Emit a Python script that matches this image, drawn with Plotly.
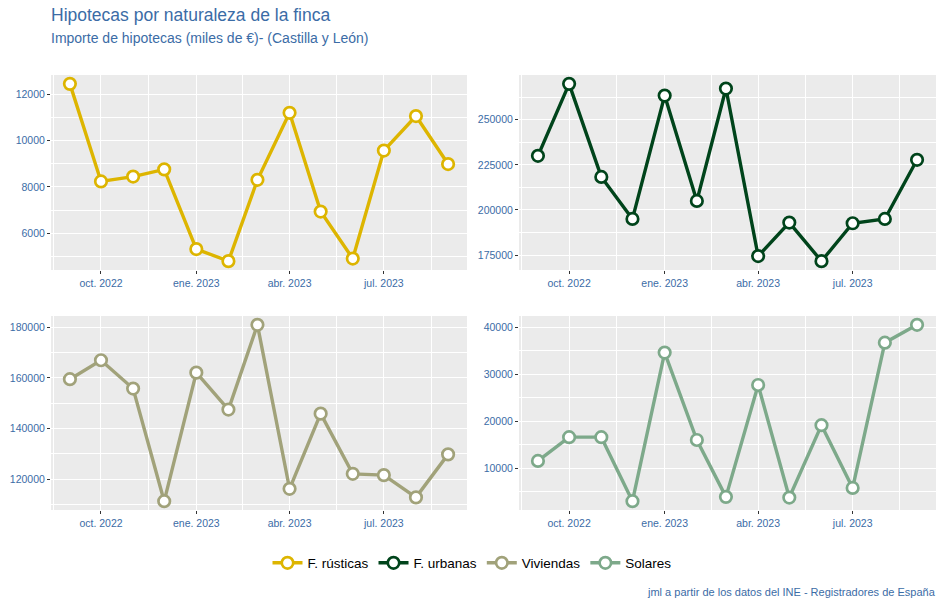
import pandas as pd
import plotly.graph_objects as go
from plotly.subplots import make_subplots

# ---- data ----
months = ["2022-09-01", "2022-10-01", "2022-11-01", "2022-12-01", "2023-01-01",
          "2023-02-01", "2023-03-01", "2023-04-01", "2023-05-01", "2023-06-01",
          "2023-07-01", "2023-08-01", "2023-09-01"]
rusticas = [12450, 8240, 8450, 8760, 5320, 4800, 8310, 11200, 6940, 4910, 9570, 11060, 8990]
urbanas = [230000, 269900, 218300, 195000, 263400, 205000, 267300, 174400, 193000, 171600, 192600, 195000, 227800]
viviendas = [159500, 167000, 155800, 111300, 162100, 147500, 181000, 116200, 145900, 122100, 121600, 112800, 129800]
solares = [11550, 16600, 16600, 2980, 34600, 16000, 3900, 27700, 3750, 19150, 5800, 36700, 40500]

series_names = ["F. rústicas", "F. urbanas", "Viviendas", "Solares"]
series_values = [rusticas, urbanas, viviendas, solares]
series_colors = ["#DDB500", "#00441B", "#A1A27A", "#7DA98A"]
y_dticks = [2000, 25000, 20000, 10000]

x_tickvals = ["2022-10-01", "2023-01-01", "2023-04-01", "2023-07-01"]
x_ticktext = ["oct. 2022", "ene. 2023", "abr. 2023", "jul. 2023"]

title = "Hipotecas por naturaleza de la finca"
subtitle = "Importe de hipotecas (miles de €)- (Castilla y León)"
caption = "jml a partir de los datos del INE - Registradores de España"

# ---- layout constants ----
W, H = 944, 607
BLUE = "#3B6CA6"
FONT = "Liberation Sans, Arial, sans-serif"

dates = pd.to_datetime(months)
span = dates.max() - dates.min()
x_range = [dates.min() - span * 0.05, dates.max() + span * 0.05]

# minor breaks: midpoints between major breaks (and one step before/after)
maj = pd.to_datetime(x_tickvals)
minor = [maj[i] + (maj[i + 1] - maj[i]) / 2 for i in range(len(maj) - 1)]
minor = [maj[0] - (maj[1] - maj[0]) / 2] + minor + [maj[-1] + (maj[-1] - maj[-2]) / 2]

fig = make_subplots(rows=2, cols=2)

xdoms = [[51 / W, 467 / W], [519 / W, 936 / W]]
ydoms = [[1 - 270 / H, 1 - 75 / H], [1 - 510 / H, 1 - 316 / H]]

for i, (name, vals, col, dt) in enumerate(zip(series_names, series_values, series_colors, y_dticks)):
    r, c = i // 2 + 1, i % 2 + 1
    fig.add_trace(go.Scatter(
        x=dates, y=vals, mode="lines+markers", name=name,
        line=dict(color=col, width=3.4),
        marker=dict(size=11.5, color="white", line=dict(color=col, width=2.7)),
        showlegend=True, hovertemplate="%{x|%b %Y}: %{y}<extra>" + name + "</extra>",
    ), row=r, col=c)
    lo, hi = min(vals), max(vals)
    pad = (hi - lo) * 0.05
    fig.update_yaxes(range=[lo - pad, hi + pad], dtick=dt, tickformat="d",
                     domain=ydoms[r - 1],
                     minor=dict(dtick=dt / 2, showgrid=True, gridcolor="#FFFFFF", gridwidth=0.5,
                                ticks=""),
                     row=r, col=c)
    fig.update_xaxes(domain=xdoms[c - 1], row=r, col=c)

fig.update_xaxes(type="date", range=x_range, tickmode="array", tickvals=x_tickvals,
                 ticktext=x_ticktext, showgrid=True, gridcolor="#FFFFFF", gridwidth=1.1,
                 ticks="outside", ticklen=3, tickcolor="#333333", tickwidth=1,
                 tickfont=dict(family=FONT, size=10.5, color=BLUE), zeroline=False,
                 showline=False,
                 minor=dict(tickvals=minor, showgrid=True, gridcolor="#FFFFFF", gridwidth=0.5,
                            ticks=""))
fig.update_yaxes(showgrid=True, gridcolor="#FFFFFF", gridwidth=1.1,
                 ticks="outside", ticklen=3, tickcolor="#333333", tickwidth=1,
                 tickfont=dict(family=FONT, size=10.5, color=BLUE), zeroline=False,
                 showline=False)

fig.update_layout(
    width=W, height=H,
    margin=dict(l=0, r=0, t=0, b=0),
    paper_bgcolor="white", plot_bgcolor="#EBEBEB",
    font=dict(family=FONT, size=12, color="black"),
    showlegend=True,
    legend=dict(orientation="h", x=0.5, xanchor="center", y=1 - 563 / H, yanchor="middle",
                font=dict(family=FONT, size=13.5, color="black"), itemwidth=30,
                bgcolor="rgba(0,0,0,0)"),
    annotations=[
        dict(text=title, x=49 / W, y=1 - 15 / H, xref="paper", yref="paper",
             xanchor="left", yanchor="middle", showarrow=False,
             font=dict(family=FONT, size=17.5, color=BLUE)),
        dict(text=subtitle, x=49 / W, y=1 - 38 / H, xref="paper", yref="paper",
             xanchor="left", yanchor="middle", showarrow=False,
             font=dict(family=FONT, size=14, color=BLUE)),
        dict(text=caption, x=938 / W, y=1 - 592 / H, xref="paper", yref="paper",
             xanchor="right", yanchor="middle", showarrow=False,
             font=dict(family=FONT, size=11, color=BLUE)),
    ],
)

fig.write_html("out.html", config={"displayModeBar": False},
               post_script="document.body.style.margin='0';")
